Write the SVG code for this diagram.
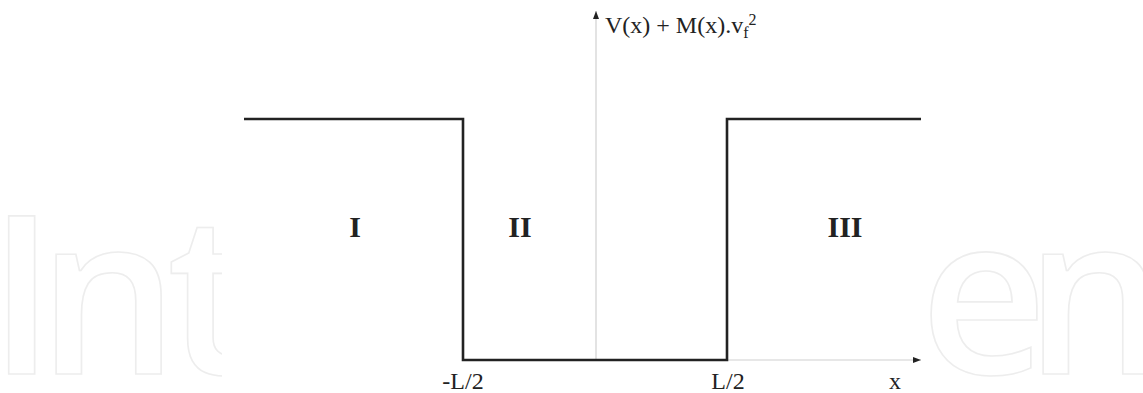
<svg xmlns="http://www.w3.org/2000/svg" width="1143" height="393" viewBox="0 0 1143 393">
<style>
.wm{font-family:"Open Sans",sans-serif;font-size:221px;font-weight:600;fill:none;stroke:#ededed;stroke-width:1.6}
.well{fill:none;stroke:#222;stroke-width:2.6;stroke-linejoin:miter}
.axis{fill:none;stroke:#d0d0d0;stroke-width:1.2}
.lbl{font-family:"Liberation Serif",serif;fill:#222}
.reg{font-family:"Liberation Serif",serif;font-weight:bold;font-size:30px;fill:#222;text-anchor:middle}
</style>
<defs>
<clipPath id="clipL"><rect x="0" y="0" width="222" height="393"/></clipPath>
<marker id="arr" viewBox="0 0 8 6" refX="8" refY="3" markerWidth="8" markerHeight="6" markerUnits="userSpaceOnUse" orient="auto">
<path d="M0,0 L8,3 L0,6 Z" fill="#222"/>
</marker>
</defs>
<rect width="1143" height="393" fill="#fff"/>
<g id="watermark">
<text class="wm" y="374" clip-path="url(#clipL)"><tspan x="-12">I</tspan><tspan x="38">n</tspan><tspan x="167">t</tspan></text>
<text class="wm" y="374"><tspan x="920">e</tspan><tspan x="1025">n</tspan></text>
</g>
<g id="connectors">
<line class="axis" x1="596" y1="360" x2="596" y2="11" marker-end="url(#arr)"/>
<line class="axis" x1="596" y1="360" x2="921" y2="360" marker-end="url(#arr)"/>
</g>
<g id="well">
<polyline class="well" points="244,119 463,119 463,360 727,360 727,119 921,119"/>
</g>
<g id="ylabel">
<text class="lbl" x="605" y="33" font-size="24">V(x) + M(x).v<tspan font-size="16" dy="5">f</tspan><tspan font-size="16" dy="-13">2</tspan></text>
</g>
<g id="region-I"><text class="reg" x="355" y="237">I</text></g>
<g id="region-II"><text class="reg" x="520" y="237">II</text></g>
<g id="region-III"><text class="reg" x="845" y="237">III</text></g>
<g id="tick-labels">
<text class="lbl" x="463" y="389" font-size="24" text-anchor="middle">-L/2</text>
<text class="lbl" x="728" y="389" font-size="24" text-anchor="middle">L/2</text>
<text class="lbl" x="895" y="389" font-size="24" text-anchor="middle">x</text>
</g>
</svg>
